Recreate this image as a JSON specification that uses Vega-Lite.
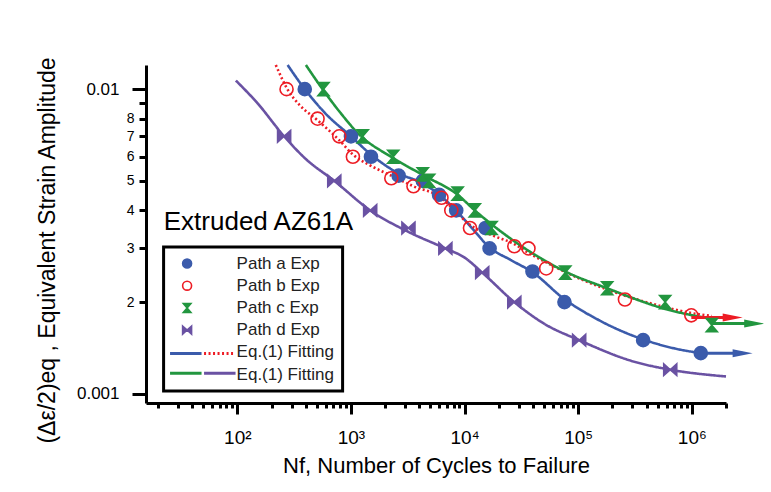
{
  "$schema": "https://vega.github.io/schema/vega-lite/v6.json",
  "width": 580,
  "height": 338,
  "autosize": {"type": "none"},
  "padding": {"left": 146, "top": 65, "right": 45, "bottom": 89},
  "background": "white",
  "config": {
    "view": {"stroke": null},
    "font": "Liberation Sans",
    "axis": {"labelFont": "Liberation Sans", "titleFont": "Liberation Sans", "labelColor": "black", "titleColor": "black", "titleFontWeight": "normal", "grid": false, "domainColor": "black", "tickColor": "black"},
    "legend": {"labelFont": "Liberation Sans", "strokeWidth": 3}
  },
  "datasets": {
    "pts": [
      {"path": "Path a Exp", "N": 392, "eps": 0.0100},
      {"path": "Path a Exp", "N": 1000, "eps": 0.0070},
      {"path": "Path a Exp", "N": 1500, "eps": 0.0060},
      {"path": "Path a Exp", "N": 2630, "eps": 0.0052},
      {"path": "Path a Exp", "N": 4290, "eps": 0.0050},
      {"path": "Path a Exp", "N": 5960, "eps": 0.0045},
      {"path": "Path a Exp", "N": 8440, "eps": 0.0040},
      {"path": "Path a Exp", "N": 15300, "eps": 0.0035},
      {"path": "Path a Exp", "N": 16600, "eps": 0.0030},
      {"path": "Path a Exp", "N": 39600, "eps": 0.00252},
      {"path": "Path a Exp", "N": 75700, "eps": 0.0020},
      {"path": "Path a Exp", "N": 373000, "eps": 0.0015},
      {"path": "Path a Exp", "N": 1200000, "eps": 0.00136},
      {"path": "Path b Exp", "N": 271, "eps": 0.0100},
      {"path": "Path b Exp", "N": 508, "eps": 0.0080},
      {"path": "Path b Exp", "N": 788, "eps": 0.0070},
      {"path": "Path b Exp", "N": 1040, "eps": 0.0060},
      {"path": "Path b Exp", "N": 2265, "eps": 0.0051},
      {"path": "Path b Exp", "N": 3550, "eps": 0.0048},
      {"path": "Path b Exp", "N": 6260, "eps": 0.0044},
      {"path": "Path b Exp", "N": 7640, "eps": 0.0040},
      {"path": "Path b Exp", "N": 11160, "eps": 0.0035},
      {"path": "Path b Exp", "N": 27400, "eps": 0.00305},
      {"path": "Path b Exp", "N": 36500, "eps": 0.0030},
      {"path": "Path b Exp", "N": 52300, "eps": 0.00258},
      {"path": "Path b Exp", "N": 258000, "eps": 0.00204},
      {"path": "Path b Exp", "N": 990000, "eps": 0.00181},
      {"path": "Path c Exp", "N": 573, "eps": 0.0100},
      {"path": "Path c Exp", "N": 1270, "eps": 0.0070},
      {"path": "Path c Exp", "N": 2355, "eps": 0.0060},
      {"path": "Path c Exp", "N": 4285, "eps": 0.00525},
      {"path": "Path c Exp", "N": 4880, "eps": 0.0050},
      {"path": "Path c Exp", "N": 8690, "eps": 0.00454},
      {"path": "Path c Exp", "N": 12300, "eps": 0.0040},
      {"path": "Path c Exp", "N": 17300, "eps": 0.0035},
      {"path": "Path c Exp", "N": 77000, "eps": 0.0025},
      {"path": "Path c Exp", "N": 180000, "eps": 0.00222},
      {"path": "Path c Exp", "N": 583000, "eps": 0.0020},
      {"path": "Path c Exp", "N": 1500000, "eps": 0.00168},
      {"path": "Path d Exp", "N": 258, "eps": 0.0070},
      {"path": "Path d Exp", "N": 713, "eps": 0.0050},
      {"path": "Path d Exp", "N": 1476, "eps": 0.0040},
      {"path": "Path d Exp", "N": 3206, "eps": 0.0035},
      {"path": "Path d Exp", "N": 6776, "eps": 0.0030},
      {"path": "Path d Exp", "N": 14300, "eps": 0.0025},
      {"path": "Path d Exp", "N": 27400, "eps": 0.0020},
      {"path": "Path d Exp", "N": 102000, "eps": 0.0015},
      {"path": "Path d Exp", "N": 646000, "eps": 0.0012}
    ],
    "fit": [
      {"fit": "fa", "N": 277, "eps": 0.0120},
      {"fit": "fa", "N": 392, "eps": 0.0100},
      {"fit": "fa", "N": 600, "eps": 0.0083},
      {"fit": "fa", "N": 1000, "eps": 0.0070},
      {"fit": "fa", "N": 1500, "eps": 0.0061},
      {"fit": "fa", "N": 2600, "eps": 0.0053},
      {"fit": "fa", "N": 4300, "eps": 0.0049},
      {"fit": "fa", "N": 6000, "eps": 0.0045},
      {"fit": "fa", "N": 8400, "eps": 0.0040},
      {"fit": "fa", "N": 12000, "eps": 0.00345},
      {"fit": "fa", "N": 16600, "eps": 0.00302},
      {"fit": "fa", "N": 25000, "eps": 0.00276},
      {"fit": "fa", "N": 40000, "eps": 0.0025},
      {"fit": "fa", "N": 75000, "eps": 0.00205},
      {"fit": "fa", "N": 150000, "eps": 0.00175},
      {"fit": "fa", "N": 370000, "eps": 0.00151},
      {"fit": "fa", "N": 700000, "eps": 0.00141},
      {"fit": "fa", "N": 1200000, "eps": 0.00136},
      {"fit": "fb", "N": 218, "eps": 0.0120},
      {"fit": "fb", "N": 280, "eps": 0.0099},
      {"fit": "fb", "N": 350, "eps": 0.0089},
      {"fit": "fb", "N": 508, "eps": 0.0079},
      {"fit": "fb", "N": 788, "eps": 0.0068},
      {"fit": "fb", "N": 1040, "eps": 0.0061},
      {"fit": "fb", "N": 1500, "eps": 0.0056},
      {"fit": "fb", "N": 2265, "eps": 0.0052},
      {"fit": "fb", "N": 3550, "eps": 0.0048},
      {"fit": "fb", "N": 6200, "eps": 0.0044},
      {"fit": "fb", "N": 7640, "eps": 0.0041},
      {"fit": "fb", "N": 11000, "eps": 0.0036},
      {"fit": "fb", "N": 18000, "eps": 0.0033},
      {"fit": "fb", "N": 27400, "eps": 0.0031},
      {"fit": "fb", "N": 36500, "eps": 0.0029},
      {"fit": "fb", "N": 52300, "eps": 0.0027},
      {"fit": "fb", "N": 100000, "eps": 0.0024},
      {"fit": "fb", "N": 258000, "eps": 0.0021},
      {"fit": "fb", "N": 600000, "eps": 0.00192},
      {"fit": "fb", "N": 1000000, "eps": 0.00184},
      {"fit": "fb", "N": 1500000, "eps": 0.00180},
      {"fit": "fc", "N": 401, "eps": 0.0120},
      {"fit": "fc", "N": 562, "eps": 0.0100},
      {"fit": "fc", "N": 800, "eps": 0.0084},
      {"fit": "fc", "N": 1180, "eps": 0.0071},
      {"fit": "fc", "N": 2245, "eps": 0.0060},
      {"fit": "fc", "N": 4400, "eps": 0.0052},
      {"fit": "fc", "N": 8700, "eps": 0.0045},
      {"fit": "fc", "N": 12300, "eps": 0.0040},
      {"fit": "fc", "N": 17300, "eps": 0.0036},
      {"fit": "fc", "N": 34000, "eps": 0.0030},
      {"fit": "fc", "N": 77000, "eps": 0.00252},
      {"fit": "fc", "N": 180000, "eps": 0.00222},
      {"fit": "fc", "N": 583000, "eps": 0.0019},
      {"fit": "fc", "N": 1500000, "eps": 0.00176},
      {"fit": "fd", "N": 97, "eps": 0.01067},
      {"fit": "fd", "N": 150, "eps": 0.0090},
      {"fit": "fd", "N": 258, "eps": 0.0070},
      {"fit": "fd", "N": 400, "eps": 0.0059},
      {"fit": "fd", "N": 713, "eps": 0.0050},
      {"fit": "fd", "N": 1476, "eps": 0.0040},
      {"fit": "fd", "N": 3206, "eps": 0.0034},
      {"fit": "fd", "N": 6776, "eps": 0.0030},
      {"fit": "fd", "N": 10000, "eps": 0.0028},
      {"fit": "fd", "N": 14300, "eps": 0.0025},
      {"fit": "fd", "N": 27400, "eps": 0.0020},
      {"fit": "fd", "N": 50000, "eps": 0.0017},
      {"fit": "fd", "N": 102000, "eps": 0.0015},
      {"fit": "fd", "N": 300000, "eps": 0.00128},
      {"fit": "fd", "N": 646000, "eps": 0.0012},
      {"fit": "fd", "N": 2000000, "eps": 0.00114}
    ],
    "arrows": [
      {"s": "a", "N0": 1200000, "N1": 2800000, "eps": 0.00136},
      {"s": "b", "N0": 990000, "N1": 2290000, "eps": 0.00178},
      {"s": "c", "N0": 1500000, "N1": 3540000, "eps": 0.00170}
    ]
  },
  "layer": [
    {
      "data": {"name": "fit"},
      "mark": {"type": "line", "strokeWidth": 2.6, "interpolate": "monotone", "strokeCap": "butt"},
      "encoding": {
        "x": {
          "field": "N", "type": "quantitative",
          "scale": {"type": "log", "domain": [15.7, 2000000], "nice": false},
          "axis": {
            "title": "Nf, Number of Cycles to Failure",
            "titleFontSize": 22,
            "titlePadding": 8,
            "values": [20,30,40,50,60,70,80,90,100,200,300,400,500,600,700,800,900,1000,2000,3000,4000,5000,6000,7000,8000,9000,10000,20000,30000,40000,50000,60000,70000,80000,90000,100000,200000,300000,400000,500000,600000,700000,800000,900000,1000000,2000000],
            "labelExpr": "datum.value == 100 ? '10²' : datum.value == 1000 ? '10³' : datum.value == 10000 ? '10⁴' : datum.value == 100000 ? '10⁵' : datum.value == 1000000 ? '10⁶' : ''",
            "tickSize": {"condition": {"test": "datum.value == 100 || datum.value == 1000 || datum.value == 10000 || datum.value == 100000 || datum.value == 1000000", "value": 11}, "value": 5},
            "tickWidth": 3,
            "domainWidth": 3,
            "labelFontSize": 19,
            "labelPadding": 14,
            "labelOverlap": false,
            "labelBound": false,
            "labelFlush": false
          }
        },
        "y": {
          "field": "eps", "type": "quantitative",
          "scale": {"type": "log", "domain": [0.000933, 0.012], "nice": false},
          "axis": {
            "title": "(Δε/2)eq , Equivalent Strain Amplitude",
            "titleFontSize": 23,
            "titleX": -99,
            "titleY": 185,
            "titleAlign": "center",
            "titleBaseline": "middle",
            "values": [0.001,0.002,0.003,0.004,0.005,0.006,0.007,0.008,0.009,0.01],
            "labelExpr": "datum.value > 0.0099 ? '0.01' : datum.value < 0.00101 ? '0.001' : datum.value > 0.0085 ? '' : '' + round(datum.value * 1000)",
            "tickSize": {"condition": {"test": "datum.value > 0.0099 || datum.value < 0.00101", "value": 14}, "value": 7},
            "tickWidth": 3,
            "domainWidth": 3,
            "labelFontSize": {"condition": {"test": "datum.value > 0.0099 || datum.value < 0.00101", "value": 17}, "value": 14},
            "labelPadding": {"condition": {"test": "datum.value > 0.0099 || datum.value < 0.00101", "value": 13}, "value": 5},
            "labelOverlap": false,
            "labelBound": false,
            "labelFlush": false
          }
        },
        "stroke": {
          "field": "fit", "type": "nominal",
          "scale": {"domain": ["fa", "fc", "fb", "fd"], "range": ["#3b5bab", "#22963f", "#ed1c24", "#6a52a3"]},
          "legend": {
            "orient": "none", "legendX": 33.3, "legendY": 281.7, "columns": 2, "title": null,
            "labelExpr": "''", "labelFontSize": 1, "symbolType": "M-3.15,0L3.15,0", "symbolSize": 100, "symbolStrokeWidth": 3,
            "symbolFillColor": "transparent",
            "rowPadding": 7, "columnPadding": -11, "labelOffset": 0, "padding": 0
          }
        },
        "strokeDash": {
          "field": "fit", "type": "nominal",
          "scale": {"domain": ["fa", "fc", "fb", "fd"], "range": [[1, 0], [1, 0], [2, 2.5], [1, 0]]}
        }
      }
    },
    {
      "data": {"name": "arrows"},
      "mark": {"type": "rule", "strokeWidth": 3},
      "encoding": {
        "x": {"field": "N0", "type": "quantitative"},
        "x2": {"field": "N1"},
        "y": {"field": "eps", "type": "quantitative"},
        "color": {"condition": [{"test": "datum.s == 'a'", "value": "#3b5bab"}, {"test": "datum.s == 'b'", "value": "#ed1c24"}], "value": "#22963f"}
      }
    },
    {
      "data": {"name": "arrows"},
      "mark": {"type": "point", "filled": true, "opacity": 1, "shape": "M1,0L-1,-0.4L-1,0.4Z", "size": 400},
      "encoding": {
        "x": {"field": "N1", "type": "quantitative"},
        "y": {"field": "eps", "type": "quantitative"},
        "color": {"condition": [{"test": "datum.s == 'a'", "value": "#3b5bab"}, {"test": "datum.s == 'b'", "value": "#ed1c24"}], "value": "#22963f"}
      }
    },
    {
      "data": {"name": "pts"},
      "mark": {"type": "point", "strokeWidth": 1.6, "opacity": 1, "size": 170},
      "encoding": {
        "x": {"field": "N", "type": "quantitative"},
        "y": {"field": "eps", "type": "quantitative"},
        "shape": {
          "field": "path", "type": "nominal",
          "scale": {"domain": ["Path a Exp", "Path b Exp", "Path c Exp", "Path d Exp", "Eq.(1) Fitting", "Eq.(1) Fitting "],
                    "range": ["circle", "circle", "M-0.85,-1L0.85,-1L0,0L0.85,1L-0.85,1L0,0Z", "M-1,-0.9L0,0L-1,0.9ZM1,-0.9L0,0L1,0.9Z", "circle", "circle"]},
          "legend": {
            "orient": "none", "legendX": 17.6, "legendY": 182, "title": null,
            "padding": 8, "strokeColor": "black",
            "symbolSize": 80, "symbolOffset": 7, "symbolStrokeWidth": 1.6, "labelOffset": 41,
            "labelFontSize": 17, "labelColor": "#222222", "rowPadding": 4.2
          }
        },
        "color": {
          "field": "path", "type": "nominal",
          "scale": {"domain": ["Path a Exp", "Path b Exp", "Path c Exp", "Path d Exp", "Eq.(1) Fitting", "Eq.(1) Fitting "],
                    "range": ["#3b5bab", "#ed1c24", "#22963f", "#6a52a3", "transparent", "transparent"]}
        },
        "fill": {
          "field": "path", "type": "nominal",
          "scale": {"domain": ["Path a Exp", "Path b Exp", "Path c Exp", "Path d Exp", "Eq.(1) Fitting", "Eq.(1) Fitting "],
                    "range": ["#3b5bab", "transparent", "#22963f", "#6a52a3", "transparent", "transparent"]}
        }
      }
    },
    {
      "data": {"values": [{"label": "Extruded AZ61A"}]},
      "mark": {"type": "text", "align": "left", "baseline": "middle", "fontSize": 26, "font": "Liberation Sans", "color": "black"},
      "encoding": {
        "x": {"datum": 22.5, "type": "quantitative"},
        "y": {"datum": 0.00367, "type": "quantitative"},
        "text": {"field": "label"}
      }
    }
  ]
}
